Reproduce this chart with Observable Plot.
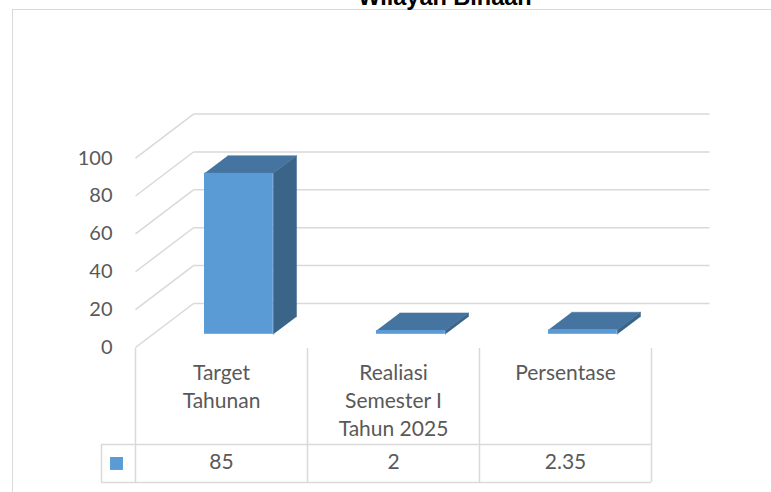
<!DOCTYPE html>
<html><head><meta charset="utf-8">
<script src="https://cdn.jsdelivr.net/npm/d3@7"></script>
<script src="https://cdn.jsdelivr.net/npm/@observablehq/plot@0.6"></script>
<style>
html,body{margin:0;padding:0;background:#fff;}
body{width:771px;height:492px;overflow:hidden;position:relative;font-family:Lato,sans-serif;}
#frame{position:absolute;left:12px;top:9px;width:900px;height:600px;border:1.5px solid #d9d9d9;box-sizing:border-box;}
#title{position:absolute;left:0;width:890px;top:-14.5px;text-align:center;font:bold 23.5px "Liberation Sans",Arial,sans-serif;line-height:23px;color:#000;white-space:nowrap;}
#chart{position:absolute;left:0;top:0;}
#table{position:absolute;left:0;top:347px;}
</style></head><body>
<div id="frame"></div>
<div id="title"></div>
<div id="chart"></div>
<div id="table"></div>
<script>
// ---- data ----
const title = "Wilayah Binaan";
const categories = ["Target Tahunan", "Realiasi Semester I Tahun 2025", "Persentase"];
const categoryLabels = ["Target\nTahunan", "Realiasi\nSemester I\nTahun 2025", "Persentase"];
const values = [85, 2, 2.35];
const yTicks = [0, 20, 40, 60, 80, 100];

// ---- styles / layout ----
const FRONT = "#5b9bd5", TOP = "#44749f", SIDE = "#3a6488";
const GRID = "#d9d9d9", TEXT = "#595959";
const DX = 58 / 172;      // depth shift along x (category units, full depth)
const DY = 44 / 1.894;    // depth shift along y (value units, full depth)
const D0 = 0.3, D1 = 0.7; // bar depth range
const B0 = 0.3, B1 = 0.7; // bar extent within a category
const KEY_W = 34 / 172;   // legend-key column width (category units)
const ROW_SPLIT = 0.716;  // header / values row boundary in table

document.getElementById("title").textContent = title;

const bars = categories.map((c, i) => ({i, c, v: values[i]}));
const n = categories.length;
const proj = (u, v, d) => ({x: u + d * DX, y: v + d * DY});

const topFaces = bars.flatMap(b => [
  proj(b.i + B0, b.v, D0), proj(b.i + B1, b.v, D0), proj(b.i + B1, b.v, D1), proj(b.i + B0, b.v, D1)
].map(p => ({...p, id: b.i})));
const sideFaces = bars.flatMap(b => [
  proj(b.i + B1, 0, D0), proj(b.i + B1, b.v, D0), proj(b.i + B1, b.v, D1), proj(b.i + B1, 0, D1)
].map(p => ({...p, id: b.i})));

const chart = Plot.plot({
  width: 771, height: 362,
  marginLeft: 135, marginRight: 120, marginTop: 157.6, marginBottom: 15,
  style: {fontFamily: "Lato, sans-serif", fontSize: "20px", color: TEXT, background: "transparent", overflow: "visible"},
  x: {domain: [0, n], axis: null},
  y: {domain: [0, 100], axis: null},
  marks: [
    // back wall gridlines
    Plot.link(yTicks, {x1: () => 0 + DX, x2: () => n + DX, y1: t => t + DY, y2: t => t + DY, stroke: GRID, strokeWidth: 1.5}),
    // side wall gridlines
    Plot.link(yTicks, {x1: () => 0, x2: () => DX, y1: t => t, y2: t => t + DY, stroke: GRID, strokeWidth: 1.5}),
    // bars
    Plot.line(sideFaces, {x: "x", y: "y", z: "id", fill: SIDE, stroke: SIDE, strokeWidth: 0.5}),
    Plot.line(topFaces, {x: "x", y: "y", z: "id", fill: TOP, stroke: TOP, strokeWidth: 0.5}),
    Plot.rect(bars, {
      x1: b => b.i + B0 + D0 * DX, x2: b => b.i + B1 + D0 * DX,
      y1: () => D0 * DY, y2: b => b.v + D0 * DY, fill: FRONT
    }),
    Plot.axisY(yTicks, {tickSize: 0, tickPadding: 23, fontSize: 20, label: null})
  ]
});
document.getElementById("chart").append(chart);

const table = Plot.plot({
  width: 771, height: 145,
  marginLeft: 135, marginRight: 120, marginTop: 1, marginBottom: 10,
  style: {fontFamily: "Lato, sans-serif", fontSize: "21px", color: TEXT, background: "transparent"},
  x: {domain: [0, n], axis: null},
  y: {domain: [0, 1], range: [1, 135], axis: null},
  marks: [
    Plot.ruleX(d3.range(n + 1), {y1: 0, y2: 1, stroke: GRID, strokeWidth: 1.5}),
    Plot.ruleX([-KEY_W], {y1: ROW_SPLIT, y2: 1, stroke: GRID, strokeWidth: 1.5}),
    Plot.ruleY([ROW_SPLIT, 1], {x1: -KEY_W, x2: n, stroke: GRID, strokeWidth: 1.5}),
    Plot.text(bars, {x: b => b.i + 0.5, y: () => 0, text: b => categoryLabels[b.i],
      lineAnchor: "top", lineHeight: 1.333, dy: 12, fontSize: 21, fill: TEXT}),
    Plot.text(bars, {x: b => b.i + 0.5, y: () => (ROW_SPLIT + 1) / 2, text: b => String(b.v),
      fontSize: 21, fill: TEXT, dy: -1}),
    Plot.dot([0], {x: () => -KEY_W / 2, y: () => (ROW_SPLIT + 1) / 2, symbol: "square", r: 7.3,
      fill: FRONT, stroke: null, dx: -2})
  ]
});
document.getElementById("table").append(table);
</script>
</body></html>
